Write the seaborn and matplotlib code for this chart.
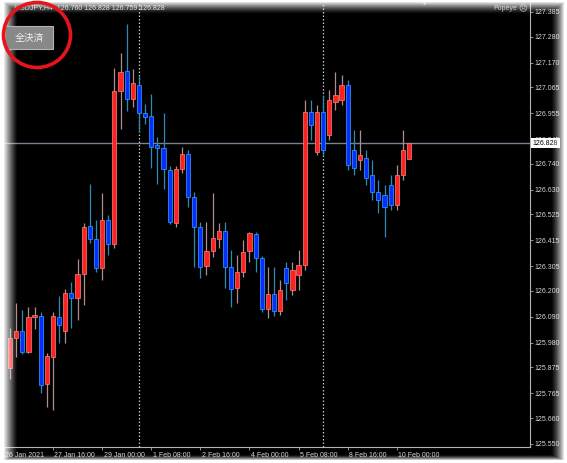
import numpy as np
import pandas as pd
import seaborn as sns
import matplotlib.pyplot as plt
from matplotlib.patches import Rectangle, Ellipse
import matplotlib.transforms as mtransforms

# USDJPY H4 candles, 26 Jan 12:00 .. 10 Feb 08:00 (server time)
opens = [125.873, 126.000, 126.030, 125.941, 126.089, 126.094, 125.805, 125.919, 126.089, 126.030,
         126.191, 126.170, 126.272, 126.476, 126.421, 126.298, 126.501, 126.399, 127.049, 127.134,
         127.015, 127.075, 126.956, 126.943, 126.820, 126.807, 126.714, 126.489, 126.718, 126.782,
         126.599, 126.472, 126.306, 126.370, 126.421, 126.455, 126.302, 126.213, 126.281, 126.370,
         126.442, 126.340, 126.123, 126.187, 126.115, 126.298, 126.204, 126.268, 126.310, 126.960,
         126.790, 126.960, 126.863, 127.003, 127.011, 127.075, 126.799, 126.756, 126.765, 126.693,
         126.620, 126.608, 126.650, 126.565, 126.693, 126.760]
highs = [126.043, 126.149, 126.119, 126.132, 126.132, 126.111, 125.936, 126.111, 126.179, 126.208,
         126.238, 126.336, 126.489, 126.654, 126.501, 126.616, 126.523, 127.147, 127.211, 127.334,
         127.143, 127.113, 126.994, 127.037, 126.854, 126.956, 126.731, 126.731, 126.812, 126.799,
         126.620, 126.493, 126.493, 126.616, 126.489, 126.493, 126.374, 126.353, 126.416, 126.450,
         126.450, 126.349, 126.302, 126.302, 126.247, 126.323, 126.323, 126.374, 127.011, 127.011,
         126.990, 127.032, 127.054, 127.130, 127.117, 127.096, 126.884, 126.884, 126.799, 126.756,
         126.671, 126.650, 126.693, 126.735, 126.884, 126.828]
lows = [125.826, 125.919, 125.932, 125.935, 126.038, 125.767, 125.707, 125.694, 125.979, 125.979,
        126.043, 126.077, 126.140, 126.404, 126.281, 126.247, 126.353, 126.382, 126.888, 126.964,
        126.981, 126.875, 126.909, 126.722, 126.654, 126.633, 126.484, 126.472, 126.701, 126.557,
        126.302, 126.255, 126.268, 126.344, 126.382, 126.213, 126.132, 126.149, 126.259, 126.323,
        126.281, 126.111, 126.085, 126.094, 126.098, 126.162, 126.183, 126.204, 126.289, 126.841,
        126.778, 126.778, 126.841, 126.969, 126.990, 126.714, 126.693, 126.714, 126.650, 126.586,
        126.531, 126.429, 126.544, 126.544, 126.671, 126.759]
closes = [126.000, 126.030, 125.941, 126.089, 126.098, 125.801, 125.924, 126.094, 126.055, 126.191,
          126.170, 126.272, 126.472, 126.421, 126.298, 126.501, 126.399, 127.049, 127.130, 127.015,
          127.083, 126.956, 126.939, 126.812, 126.807, 126.718, 126.493, 126.718, 126.782, 126.599,
          126.472, 126.302, 126.370, 126.425, 126.455, 126.302, 126.208, 126.281, 126.366, 126.446,
          126.340, 126.123, 126.187, 126.115, 126.204, 126.234, 126.289, 126.310, 126.960, 126.905,
          126.960, 126.799, 127.011, 127.032, 127.075, 126.735, 126.722, 126.778, 126.680, 126.620,
          126.586, 126.557, 126.565, 126.693, 126.799, 126.828]

price_labels = ['127.385', '127.280', '127.170', '127.065', '126.955', '126.845', '126.740', '126.630',
                '126.525', '126.415', '126.305', '126.200', '126.090', '125.980', '125.875', '125.765',
                '125.660', '125.550']
time_pos = [-1, 7, 15, 23, 31, 39, 47, 55, 63]
time_labels = ['26 Jan 2021', '27 Jan 16:00', '29 Jan 00:00', '1 Feb 08:00', '2 Feb 16:00',
               '4 Feb 00:00', '5 Feb 08:00', '8 Feb 16:00', '10 Feb 00:00']
week_starts = [21, 51]
bid = 126.828
header = 'USDJPY,H4  126.760 126.828 126.759 126.828'

df = pd.DataFrame({'open': opens, 'high': highs, 'low': lows, 'close': closes})
df['bar'] = np.arange(len(df))
df['up'] = df['close'] >= df['open']

sns.set_theme(style='dark', rc={'axes.facecolor': 'black', 'figure.facecolor': 'black',
                                'axes.edgecolor': '#b0b0b0', 'axes.grid': False})
plt.rcParams['font.family'] = ['Liberation Sans', 'DejaVu Sans']

W, H = 567, 463
fig = plt.figure(figsize=(W / 100, H / 100), dpi=100)
ax = fig.add_axes([0, 16 / H, 530 / W, 444 / H])

# wicks
for up, col in [(True, '#b28c8c'), (False, '#2a8cb4')]:
    d = df[df['up'] == up]
    ax.vlines(d['bar'], d['low'], d['high'], color=col, lw=0.9, zorder=2)

# bodies
body = (df['close'] - df['open']).abs().clip(lower=0.006)
bottom = df[['open', 'close']].min(axis=1)
up = df['up'].values
ax.bar(df['bar'][up], body[up], bottom=bottom[up], width=0.68,
       color='#ff2020', edgecolor='#ff8080', linewidth=0.5, zorder=3)
ax.bar(df['bar'][~up], body[~up], bottom=bottom[~up], width=0.68,
       color='#0a2cff', edgecolor='#2aa8ff', linewidth=0.5, zorder=3)

for w in week_starts:
    ax.axvline(w, color='#c8c8c8', lw=0.9, ls=(0, (1.2, 1.6)), zorder=1)
ax.axhline(bid, color='#7a8290', lw=1.0, zorder=1)

ax.set_xlim(-10 / 6.14, 520 / 6.14)
ax.set_ylim(125.537, 127.423)
ax.set_yticks([float(p) for p in price_labels])
ax.set_yticklabels(price_labels)
ax.yaxis.tick_right()
ax.set_xticks(time_pos)
ax.set_xticklabels(time_labels)
ax.tick_params(axis='y', colors='#a8a8a8', labelcolor='#d4d4d4', length=2, width=0.6,
               pad=1.5, labelsize=5, right=True, left=False)
ax.tick_params(axis='x', colors='#a8a8a8', labelcolor='#d4d4d4', length=2.5, width=0.6,
               pad=0.8, labelsize=5, bottom=True)
shift = mtransforms.ScaledTranslation(1.5 / 100, 0, fig.dpi_scale_trans)
for lbl in ax.get_xticklabels():
    lbl.set_ha('left')
    lbl.set_transform(lbl.get_transform() + shift)
for s in ['left', 'top']:
    ax.spines[s].set_visible(False)
for s in ['right', 'bottom']:
    ax.spines[s].set_color('#b4b4b4')
    ax.spines[s].set_linewidth(0.8)

ax.text(1.005, bid, '126.828', transform=ax.get_yaxis_transform(), fontsize=5, color='black',
        va='center', ha='left', clip_on=False, zorder=6,
        bbox=dict(boxstyle='square,pad=0.2', fc='white', ec='none'))

# window edge fade, button and marking circle in pixel coordinates
ov = fig.add_axes([0, 0, 1, 1], zorder=5)
ov.set_xlim(0, W)
ov.set_ylim(H, 0)
ov.axis('off')
yy, xx = np.mgrid[0:H, 0:W].astype(float)


def ramp(d, width, k=1.5):
    return np.clip(1 - d / width, 0, 1) ** k


alpha = np.maximum.reduce([ramp(xx - 3, 14, 1.2), ramp(yy - 1, 13), ramp(W - 3 - xx, 14), ramp(H - 3 - yy, 6)])
rgba = np.ones((H, W, 4))
rgba[..., 3] = alpha
ov.imshow(rgba, extent=(0, W, H, 0), aspect='auto', zorder=1)

ov.text(15, 8, header, fontsize=5, color='#d8d8d8', va='center', ha='left', zorder=0)
ov.text(517, 8.5, 'Popeye', fontsize=5, color='#b8b8b8', va='center', ha='right', zorder=0)
ov.text(518, 8.5, '\u2639', fontsize=6, color='#b8b8b8', va='center', ha='left',
        family='DejaVu Sans', zorder=0)
ov.text(425, 4, '\u25bc', fontsize=3, color='#a0a0a0', va='center', ha='center',
        family='DejaVu Sans', zorder=0)

ov.add_patch(Rectangle((5, 26), 48, 23, fc='#888888', ec='#b4b4b4', lw=0.8, zorder=3))
ov.text(29, 37.5, '全決済', fontsize=7, color='#f2f2f2', va='center', ha='center',
        family=['Noto Sans CJK JP', 'DejaVu Sans'], zorder=4)
ov.add_patch(Ellipse((37, 35), 67, 65, fill=False, ec='#e8141c', lw=2.6, zorder=5))

fig.savefig('out.png', dpi=100)
